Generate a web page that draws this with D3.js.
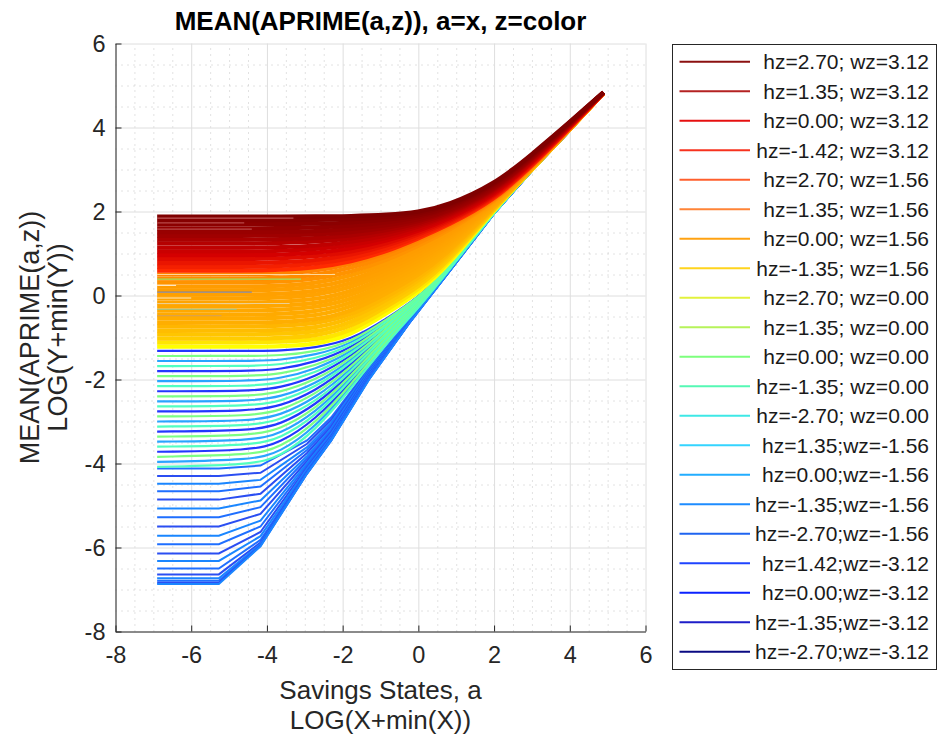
<!DOCTYPE html>
<html>
<head>
<meta charset="utf-8">
<script src="https://cdn.jsdelivr.net/npm/d3@7"></script>
<style>
  body { margin: 0; background: #fff; }
  text { font-family: "Liberation Sans", Arial, sans-serif; }
  .grid path { display: none; }
  .grid.major line { stroke: #dedede; stroke-width: 1; }
  .grid.minor line { stroke: #c4c4c4; stroke-width: 1; stroke-dasharray: 1, 5; }
  .axis path, .axis line { stroke: #262626; stroke-width: 1; }
</style>
</head>
<body>
<div class="chart"></div>
<script>
var aGrid = [-6.9, -4.4, -3.66, -2.72, -1.78, -0.83, 0, 0.76, 2, 3, 4, 4.89];
var aGridLow = [-6.9, -5.27, -4.17, -2.94, -2.3, -1.3, -0.21, 0.76, 2, 3, 4, 4.89];

// high z states (dark red -> red)
var redLines = [
  [1.88, 1.88, 1.88, 1.88, 1.89, 1.92, 1.98, 2.14, 2.64, 3.36, 4.13, 4.84],
  [1.79, 1.79, 1.79, 1.80, 1.81, 1.86, 1.94, 2.11, 2.61, 3.34, 4.12, 4.84],
  [1.70, 1.70, 1.70, 1.71, 1.73, 1.80, 1.89, 2.07, 2.59, 3.32, 4.11, 4.84],
  [1.60, 1.60, 1.60, 1.62, 1.66, 1.73, 1.85, 2.04, 2.56, 3.30, 4.10, 4.83],
  [1.51, 1.51, 1.51, 1.53, 1.58, 1.67, 1.80, 2.00, 2.53, 3.28, 4.09, 4.83],
  [1.42, 1.42, 1.43, 1.45, 1.50, 1.61, 1.76, 1.97, 2.50, 3.26, 4.08, 4.83],
  [1.33, 1.33, 1.34, 1.36, 1.42, 1.55, 1.71, 1.93, 2.48, 3.24, 4.07, 4.83],
  [1.24, 1.24, 1.25, 1.28, 1.35, 1.49, 1.67, 1.90, 2.45, 3.22, 4.06, 4.83],
  [1.14, 1.14, 1.15, 1.18, 1.27, 1.42, 1.63, 1.87, 2.42, 3.20, 4.05, 4.83],
  [1.05, 1.05, 1.06, 1.10, 1.19, 1.36, 1.58, 1.83, 2.40, 3.18, 4.04, 4.83],
  [0.96, 0.96, 0.97, 1.01, 1.11, 1.30, 1.54, 1.80, 2.37, 3.16, 4.03, 4.82],
  [0.87, 0.87, 0.88, 0.93, 1.03, 1.24, 1.49, 1.76, 2.34, 3.14, 4.02, 4.82],
  [0.77, 0.77, 0.79, 0.83, 0.96, 1.18, 1.45, 1.73, 2.31, 3.12, 4.00, 4.82],
  [0.68, 0.68, 0.70, 0.75, 0.88, 1.11, 1.40, 1.69, 2.29, 3.10, 3.99, 4.82],
  [0.59, 0.59, 0.61, 0.66, 0.80, 1.05, 1.36, 1.66, 2.26, 3.08, 3.98, 4.82]
];

// orange -> yellow
var orangeLines = [
  [0.50, 0.50, 0.52, 0.58, 0.74, 1.00, 1.32, 1.62, 2.23, 3.06, 3.97, 4.82],
  [0.40, 0.40, 0.42, 0.48, 0.65, 0.92, 1.25, 1.57, 2.22, 3.06, 3.97, 4.82],
  [0.31, 0.31, 0.33, 0.39, 0.55, 0.84, 1.18, 1.52, 2.21, 3.05, 3.97, 4.82],
  [0.21, 0.21, 0.23, 0.29, 0.46, 0.76, 1.11, 1.46, 2.20, 3.05, 3.97, 4.82],
  [0.12, 0.12, 0.14, 0.19, 0.36, 0.68, 1.04, 1.41, 2.19, 3.05, 3.97, 4.82],
  [0.02, 0.02, 0.04, 0.09, 0.27, 0.61, 0.97, 1.36, 2.18, 3.04, 3.97, 4.82],
  [-0.07, -0.07, -0.05, 0.00, 0.18, 0.53, 0.90, 1.31, 2.17, 3.04, 3.97, 4.82],
  [-0.17, -0.17, -0.15, -0.10, 0.08, 0.45, 0.83, 1.25, 2.16, 3.04, 3.96, 4.82],
  [-0.26, -0.26, -0.24, -0.20, -0.01, 0.37, 0.76, 1.20, 2.15, 3.03, 3.96, 4.82],
  [-0.36, -0.36, -0.34, -0.29, -0.11, 0.29, 0.69, 1.15, 2.14, 3.03, 3.96, 4.82],
  [-0.46, -0.46, -0.44, -0.39, -0.20, 0.21, 0.62, 1.10, 2.13, 3.03, 3.96, 4.82],
  [-0.55, -0.55, -0.53, -0.49, -0.29, 0.13, 0.55, 1.05, 2.12, 3.02, 3.96, 4.82],
  [-0.65, -0.65, -0.63, -0.59, -0.39, 0.05, 0.48, 0.99, 2.11, 3.02, 3.96, 4.82],
  [-0.74, -0.74, -0.72, -0.68, -0.48, -0.03, 0.41, 0.94, 2.10, 3.02, 3.95, 4.82],
  [-0.84, -0.84, -0.82, -0.78, -0.57, -0.10, 0.34, 0.89, 2.09, 3.01, 3.95, 4.82],
  [-0.93, -0.93, -0.91, -0.88, -0.67, -0.18, 0.27, 0.84, 2.08, 3.01, 3.95, 4.82],
  [-1.03, -1.03, -1.01, -0.97, -0.76, -0.26, 0.20, 0.78, 2.07, 3.01, 3.95, 4.82],
  [-1.12, -1.12, -1.10, -1.07, -0.86, -0.34, 0.13, 0.73, 2.06, 3.00, 3.95, 4.82],
  [-1.22, -1.22, -1.21, -1.17, -0.95, -0.42, 0.06, 0.68, 2.05, 3.00, 3.95, 4.82]
];

// green / cyan band
var greenLines = [
  [-1.32, -1.32, -1.32, -1.25, -1.06, -0.55, -0.04, 0.60, 2.03, 3.00, 3.94, 4.82],
  [-1.44, -1.44, -1.43, -1.34, -1.11, -0.57, -0.05, 0.60, 2.03, 3.00, 3.94, 4.82],
  [-1.56, -1.56, -1.54, -1.42, -1.16, -0.60, -0.06, 0.60, 2.03, 3.00, 3.94, 4.82],
  [-1.68, -1.68, -1.65, -1.51, -1.21, -0.62, -0.07, 0.60, 2.03, 3.00, 3.94, 4.82],
  [-1.80, -1.80, -1.76, -1.59, -1.26, -0.65, -0.09, 0.59, 2.03, 3.00, 3.94, 4.82],
  [-1.92, -1.92, -1.87, -1.68, -1.31, -0.67, -0.10, 0.59, 2.02, 3.00, 3.94, 4.82],
  [-2.04, -2.04, -1.98, -1.76, -1.36, -0.70, -0.11, 0.59, 2.02, 3.00, 3.94, 4.82],
  [-2.16, -2.16, -2.09, -1.85, -1.41, -0.72, -0.12, 0.59, 2.02, 3.00, 3.94, 4.82],
  [-2.28, -2.28, -2.20, -1.94, -1.46, -0.75, -0.13, 0.58, 2.02, 3.00, 3.94, 4.82],
  [-2.40, -2.40, -2.31, -2.02, -1.51, -0.77, -0.14, 0.58, 2.02, 3.00, 3.94, 4.82],
  [-2.52, -2.52, -2.42, -2.11, -1.56, -0.80, -0.15, 0.58, 2.01, 3.00, 3.94, 4.82],
  [-2.64, -2.63, -2.53, -2.19, -1.61, -0.82, -0.16, 0.58, 2.01, 3.00, 3.94, 4.82],
  [-2.76, -2.75, -2.64, -2.28, -1.66, -0.85, -0.18, 0.57, 2.01, 2.99, 3.93, 4.82],
  [-2.88, -2.87, -2.75, -2.36, -1.72, -0.87, -0.19, 0.57, 2.01, 2.99, 3.93, 4.82],
  [-3.00, -2.99, -2.86, -2.45, -1.77, -0.90, -0.20, 0.57, 2.01, 2.99, 3.93, 4.82],
  [-3.12, -3.11, -2.97, -2.54, -1.82, -0.92, -0.21, 0.57, 2.00, 2.99, 3.93, 4.82],
  [-3.24, -3.22, -3.08, -2.62, -1.87, -0.95, -0.22, 0.56, 2.00, 2.99, 3.93, 4.82],
  [-3.36, -3.34, -3.19, -2.71, -1.92, -0.97, -0.23, 0.56, 2.00, 2.99, 3.93, 4.82],
  [-3.48, -3.46, -3.30, -2.79, -1.97, -1.00, -0.24, 0.56, 2.00, 2.99, 3.93, 4.82],
  [-3.60, -3.57, -3.41, -2.88, -2.02, -1.02, -0.25, 0.56, 2.00, 2.99, 3.93, 4.82],
  [-3.72, -3.69, -3.52, -2.96, -2.07, -1.05, -0.27, 0.55, 1.99, 2.99, 3.93, 4.82],
  [-3.84, -3.80, -3.63, -3.05, -2.12, -1.07, -0.28, 0.55, 1.99, 2.98, 3.93, 4.82],
  [-3.96, -3.92, -3.74, -3.14, -2.17, -1.10, -0.29, 0.55, 1.99, 2.98, 3.93, 4.82],
  [-4.08, -4.03, -3.85, -3.22, -2.22, -1.12, -0.30, 0.54, 1.98, 2.98, 3.93, 4.82]
];

// lowest z states (blue), read on aGridLow
var blueLines = [
  [-4.12, -4.12, -4.05, -3.45, -2.90, -1.72, -0.54, 0.53, 1.97, 2.98, 3.92, 4.82],
  [-4.30, -4.30, -4.22, -3.53, -2.96, -1.74, -0.55, 0.53, 1.97, 2.98, 3.92, 4.82],
  [-4.48, -4.48, -4.39, -3.61, -3.02, -1.76, -0.55, 0.53, 1.97, 2.98, 3.92, 4.82],
  [-4.66, -4.66, -4.55, -3.68, -3.07, -1.78, -0.56, 0.53, 1.97, 2.98, 3.92, 4.82],
  [-4.86, -4.86, -4.72, -3.75, -3.12, -1.80, -0.56, 0.53, 1.97, 2.98, 3.92, 4.82],
  [-5.07, -5.07, -4.88, -3.82, -3.17, -1.82, -0.57, 0.53, 1.97, 2.98, 3.92, 4.82],
  [-5.28, -5.28, -5.04, -3.88, -3.21, -1.84, -0.57, 0.52, 1.96, 2.98, 3.92, 4.82],
  [-5.50, -5.50, -5.20, -3.94, -3.25, -1.86, -0.58, 0.52, 1.96, 2.98, 3.92, 4.82],
  [-5.72, -5.72, -5.36, -3.99, -3.29, -1.88, -0.58, 0.52, 1.96, 2.98, 3.92, 4.82],
  [-5.92, -5.92, -5.50, -4.04, -3.32, -1.90, -0.59, 0.52, 1.96, 2.97, 3.92, 4.82],
  [-6.14, -6.14, -5.63, -4.09, -3.35, -1.92, -0.59, 0.52, 1.96, 2.97, 3.92, 4.82],
  [-6.32, -6.32, -5.73, -4.13, -3.38, -1.94, -0.60, 0.52, 1.96, 2.97, 3.92, 4.82],
  [-6.50, -6.50, -5.82, -4.17, -3.40, -1.95, -0.60, 0.51, 1.95, 2.97, 3.92, 4.82],
  [-6.64, -6.64, -5.88, -4.20, -3.42, -1.96, -0.61, 0.51, 1.95, 2.97, 3.92, 4.82],
  [-6.73, -6.73, -5.92, -4.22, -3.43, -1.97, -0.61, 0.51, 1.95, 2.97, 3.92, 4.82],
  [-6.79, -6.79, -5.94, -4.23, -3.44, -1.98, -0.62, 0.50, 1.95, 2.97, 3.92, 4.82],
  [-6.84, -6.84, -5.96, -4.24, -3.45, -1.99, -0.62, 0.50, 1.95, 2.97, 3.92, 4.82],
  [-6.87, -6.87, -5.97, -4.24, -3.45, -2.00, -0.62, 0.50, 1.95, 2.97, 3.92, 4.82]
];

// short flat streaks of other states showing through the upper bands
var streakLevels = [1.84, 1.73, 1.58, 0.50, 0.39, 0.24, 0.08, -0.06, -0.19, -0.33, -0.48];
var streakEnds = [-3.3, -4.6, -4.4, -2.2, -3.1, -6.4, -4.4, -6.0, -3.4, -4.8, -5.2];

var legendLabels = [
  "hz=2.70; wz=3.12", "hz=1.35; wz=3.12", "hz=0.00; wz=3.12", "hz=-1.42; wz=3.12",
  "hz=2.70; wz=1.56", "hz=1.35; wz=1.56", "hz=0.00; wz=1.56", "hz=-1.35; wz=1.56",
  "hz=2.70; wz=0.00", "hz=1.35; wz=0.00", "hz=0.00; wz=0.00", "hz=-1.35; wz=0.00",
  "hz=-2.70; wz=0.00", "hz=1.35;wz=-1.56", "hz=0.00;wz=-1.56", "hz=-1.35;wz=-1.56",
  "hz=-2.70;wz=-1.56", "hz=1.42;wz=-3.12", "hz=0.00;wz=-3.12", "hz=-1.35;wz=-3.12",
  "hz=-2.70;wz=-3.12"
];
var legendColors = [
  "#8b1010", "#b42222", "#e61010", "#f7321e", "#ff5f2d", "#ff8437", "#ffa212",
  "#ffd41e", "#e2f23c", "#b6f35a", "#7dff7d", "#55f8b4", "#3ee8e6", "#34d4ff",
  "#22adff", "#1e8cff", "#1f64f0", "#1f44ff", "#0b22ff", "#1e1ec8", "#0a0a82"
];
var streakColors = [
  "#cf7272", "#c86060", "#c86060", "#fff2cc", "#7dff7d", "#ffffff",
  "#5a78c8", "#ffffff", "#e4dcc0", "#8fc8a0", "#d0a060"
];

var margin = { top: 43.5, right: 292.5, bottom: 106.5, left: 115.5 };
var width = 938 - margin.left - margin.right;
var height = 738 - margin.top - margin.bottom;

var svg = d3
  .select(".chart")
  .append("svg")
  .attr("width", 938)
  .attr("height", 738);

svg.append("rect").attr("width", 938).attr("height", 738).attr("fill", "#fff");

var chart = svg
  .append("g")
  .attr("transform", `translate(${margin.left},${margin.top})`);

var xScale = d3.scaleLinear().domain([-8, 6]).range([0, width]);
var yScale = d3.scaleLinear().domain([-8, 6]).range([height, 0]);

var majorTicks = d3.range(-8, 7, 2);
var minorTicks = d3.range(-8, 6.01, 0.5).filter(v => Math.abs(v % 2) > 0.01);

// minor dotted grid, then solid major grid
chart.append("g")
  .attr("class", "grid minor")
  .attr("transform", `translate(0,${height})`)
  .call(d3.axisBottom(xScale).tickValues(minorTicks).tickSize(-height).tickFormat(""));
chart.append("g")
  .attr("class", "grid minor")
  .call(d3.axisLeft(yScale).tickValues(minorTicks).tickSize(-width).tickFormat(""));
chart.append("g")
  .attr("class", "grid major")
  .attr("transform", `translate(0,${height})`)
  .call(d3.axisBottom(xScale).tickValues(majorTicks).tickSize(-height).tickFormat(""));
chart.append("g")
  .attr("class", "grid major")
  .call(d3.axisLeft(yScale).tickValues(majorTicks).tickSize(-width).tickFormat(""));

function drawBand(rows, grid, colorOf, strokeWidth, curve) {
  var line = d3.line()
    .x((d, i) => xScale(grid[i]))
    .y(d => yScale(d))
    .curve(curve);
  chart.append("g")
    .selectAll("path")
    .data(rows)
    .enter()
    .append("path")
    .attr("d", d => line(d))
    .attr("fill", "none")
    .attr("stroke", (d, i) => colorOf(i))
    .attr("stroke-width", strokeWidth);
}

var bluePalette = ["#1f6fff", "#2b4ef2", "#1a86ff"];
drawBand(blueLines, aGridLow, i => bluePalette[i % 3], 2, d3.curveLinear);

// green band: blue-ish lines first, then the green ones over them
var greenPalette = ["#2338ff", "#7cff84", "#2aa4ff", "#52ffc0"];
var greenBack = greenLines.filter((d, i) => i % 2 === 0);
var greenFront = greenLines.filter((d, i) => i % 2 === 1);
drawBand(greenBack, aGrid, i => greenPalette[(2 * i) % 4], 2.2, d3.curveBasis);
drawBand(greenFront, aGrid, i => greenPalette[(2 * i + 1) % 4], 2.2, d3.curveBasis);

var orangeColor = d3.scaleLinear()
  .domain([0, 3, 12, 16, 18])
  .range(["#ff8200", "#ff9c00", "#ffae00", "#ffcc00", "#ffff00"]);
drawBand(orangeLines.slice().reverse(), aGrid, i => orangeColor(18 - i), 4.2, d3.curveBasis);

var redColor = d3.scaleLinear()
  .domain([0, 5, 10, 14])
  .range(["#7f0000", "#a00000", "#d40000", "#ff2a00"]);
drawBand(redLines.slice().reverse(), aGrid, i => redColor(14 - i), 4.2, d3.curveBasis);

chart.append("g")
  .selectAll("line")
  .data(streakLevels)
  .enter()
  .append("line")
  .attr("x1", xScale(aGrid[0]))
  .attr("x2", (d, i) => xScale(streakEnds[i]))
  .attr("y1", d => yScale(d))
  .attr("y2", d => yScale(d))
  .attr("stroke", (d, i) => streakColors[i])
  .attr("stroke-width", 1.2)
  .attr("stroke-opacity", 0.75);

// axes (left and bottom only, ticks inward)
var xAxis = d3.axisBottom(xScale).tickValues(majorTicks).tickFormat(d => String(d))
  .tickSizeInner(-6).tickSizeOuter(0).tickPadding(15);
var yAxis = d3.axisLeft(yScale).tickValues(majorTicks).tickFormat(d => String(d))
  .tickSizeInner(-6).tickSizeOuter(0).tickPadding(10);

chart.append("g")
  .attr("class", "x axis")
  .attr("transform", `translate(0,${height})`)
  .call(xAxis)
  .attr("font-family", null)
  .attr("font-size", 23.5)
  .attr("color", "#262626");

chart.append("g")
  .attr("class", "y axis")
  .call(yAxis)
  .attr("font-family", null)
  .attr("font-size", 23.5)
  .attr("color", "#262626");

// title and axis labels
svg.append("text")
  .attr("x", margin.left + width / 2)
  .attr("y", 30)
  .attr("text-anchor", "middle")
  .attr("font-size", 26)
  .attr("font-weight", "bold")
  .attr("fill", "#000")
  .text("MEAN(APRIME(a,z)), a=x, z=color");

svg.append("text")
  .attr("x", margin.left + width / 2)
  .attr("y", 699)
  .attr("text-anchor", "middle")
  .attr("font-size", 26)
  .attr("fill", "#262626")
  .text("Savings States, a");
svg.append("text")
  .attr("x", margin.left + width / 2)
  .attr("y", 729)
  .attr("text-anchor", "middle")
  .attr("font-size", 26)
  .attr("fill", "#262626")
  .text("LOG(X+min(X))");

svg.append("text")
  .attr("transform", `translate(39,${margin.top + height / 2}) rotate(-90)`)
  .attr("text-anchor", "middle")
  .attr("font-size", 27)
  .attr("fill", "#262626")
  .text("MEAN(APRIME(a,z))");
svg.append("text")
  .attr("transform", `translate(66.5,${margin.top + height / 2}) rotate(-90)`)
  .attr("text-anchor", "middle")
  .attr("font-size", 27)
  .attr("fill", "#262626")
  .text("LOG(Y+min(Y))");

// legend
var legend = svg.append("g").attr("transform", "translate(672.5,44.5)");
legend.append("rect")
  .attr("width", 264)
  .attr("height", 625)
  .attr("fill", "#fff")
  .attr("stroke", "#262626")
  .attr("stroke-width", 1);

var entries = legend.selectAll(".entry")
  .data(legendLabels)
  .enter()
  .append("g")
  .attr("class", "entry")
  .attr("transform", (d, i) => `translate(0,${17.2 + i * 29.5})`);

entries.append("line")
  .attr("x1", 7)
  .attr("x2", 77.5)
  .attr("stroke", (d, i) => legendColors[i])
  .attr("stroke-width", 2);

entries.append("text")
  .attr("x", 256.5)
  .attr("y", 7.5)
  .attr("text-anchor", "end")
  .attr("font-size", 21)
  .attr("fill", "#1a1a1a")
  .text(d => d);
</script>
</body>
</html>
